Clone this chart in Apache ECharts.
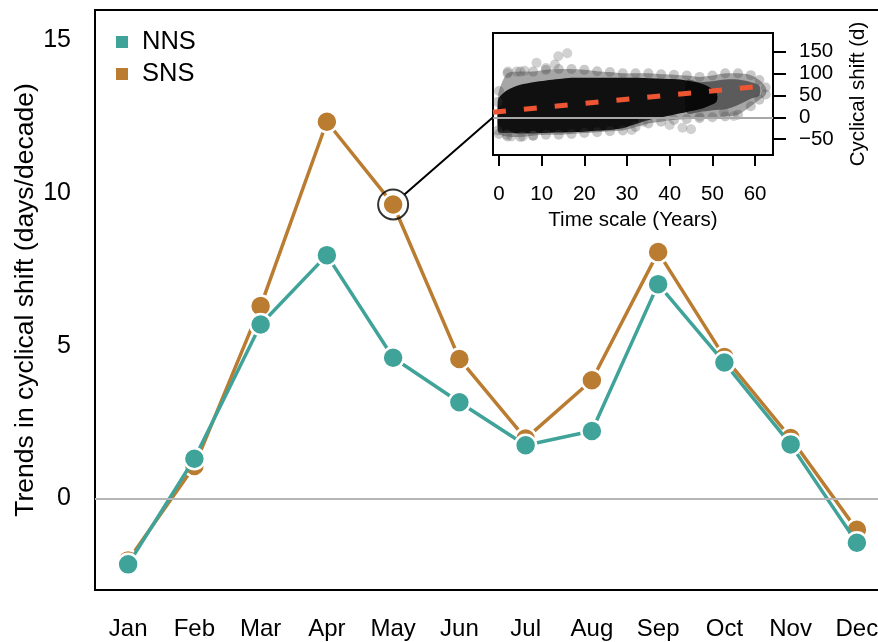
<!DOCTYPE html>
<html>
<head>
<meta charset="utf-8" />
<title>Trends in cyclical shift</title>
<script src="https://cdn.jsdelivr.net/npm/echarts@6/dist/echarts.min.js"></script>
<style>
  html, body { margin: 0; padding: 0; background: #fff; }
  #main { width: 878px; height: 642px; }
</style>
</head>
<body>
<div id="main"></div>
<script>
// main panel data
var months = ['Jan', 'Feb', 'Mar', 'Apr', 'May', 'Jun', 'Jul', 'Aug', 'Sep', 'Oct', 'Nov', 'Dec'];
var nns = [-2.16, 1.30, 5.70, 7.97, 4.61, 3.15, 1.74, 2.21, 7.02, 4.45, 1.77, -1.45];
var sns = [-2.03, 1.06, 6.30, 12.34, 9.63, 4.57, 1.96, 3.87, 8.07, 4.63, 1.98, -1.03];
var mainTicks = [0, 5, 10, 15];

// inset data: cloud outline
var cloudX  = [-0.3, 0, 2, 5, 8, 11, 14, 17, 20, 23, 26, 29, 32, 35, 38, 41, 44, 47, 50, 53, 56, 59, 61, 62.5];
var outerHi = [35, 60, 100, 104, 104, 108, 110, 110, 108, 105, 103, 100, 100, 100, 98, 97, 95, 92, 95, 100, 100, 96, 85, 68];
var outerLo = [-30, -38, -44, -45, -42, -40, -40, -38, -36, -34, -32, -30, -22, -14, -10, -6, -4, -2, 0, 2, 6, 25, 40, 52];
var coreX   = [-0.3, 0, 2, 5, 8, 11, 14, 17, 20, 23, 26, 29, 32, 35, 38, 41, 44, 47, 49, 51];
var coreHi  = [32, 45, 62, 74, 80, 84, 87, 90, 90, 90, 90, 90, 90, 89, 88, 87, 84, 78, 70, 55];
var coreLo  = [-28, -34, -36, -37, -37, -36, -35, -34, -33, -31, -29, -25, -16, -6, 0, 6, 12, 18, 25, 36];
var midX    = [44, 47, 50, 53, 56, 59, 61];
var midHi   = [84, 80, 82, 86, 86, 80, 72];
var midLo   = [10, 12, 16, 18, 28, 42, 50];
var outliers = [[13.9, 139], [16, 146], [13.1, 120], [8.8, 124], [2.1, 104], [4.1, 104], [6, 106], [11, 112],
                [1.8, -40], [2.9, -44], [5.6, -44], [8, -42], [33.8, -10], [31.1, -29], [40, -17.6],
                [43, -24], [45, -27.5], [52.7, 12], [47, 2], [55, 3]];
var trendLine = [[-1.4, 11.2], [61.5, 70.9]];
var insetXTicks = [0, 10, 20, 30, 40, 50, 60];
var insetYTicks = [-50, 0, 50, 100, 150];

var TEAL = '#40A39A';
var ORANGE = '#BA7C31';
var FONT = 'Liberation Sans, Arial, Helvetica, sans-serif';

function band(xs, hi, lo, fill) {
    return {
        type: 'custom',
        xAxisIndex: 1, yAxisIndex: 1,
        data: [[10, 0]],
        silent: true,
        renderItem: function (params, api) {
            var pts = [];
            for (var i = 0; i < xs.length; i++) pts.push(api.coord([xs[i], hi[i]]));
            for (var j = xs.length - 1; j >= 0; j--) pts.push(api.coord([xs[j], lo[j]]));
            return { type: 'polygon', shape: { points: pts, smooth: 0.3 }, style: { fill: fill } };
        },
        z: 2
    };
}

function edgeDots() {
    var d = [];
    for (var i = 0; i < cloudX.length; i++) {
        d.push([cloudX[i], outerHi[i]]);
        d.push([cloudX[i], outerLo[i]]);
    }
    return d;
}

var myChart = echarts.init(document.getElementById('main'));

var option = {
    animation: false,
    textStyle: { fontFamily: FONT, color: '#000' },
    grid: [
        { left: 95, top: 10, width: 795, height: 580, show: true, borderColor: '#000', borderWidth: 2, backgroundColor: '#fff', outerBoundsMode: 'none', containLabel: false },
        { left: 493, top: 33, width: 280, height: 122, show: true, borderColor: '#000', borderWidth: 2, backgroundColor: '#fff', outerBoundsMode: 'none', containLabel: false }
    ],
    legend: {
        data: ['NNS', 'SNS'],
        orient: 'vertical',
        left: 111, top: 24,
        icon: 'rect',
        itemWidth: 12, itemHeight: 12,
        itemGap: 6,
        itemStyle: { borderWidth: 0 },
        textStyle: { fontSize: 25.5, color: '#000', fontFamily: FONT, padding: [0, 0, 0, 9] }
    },
    xAxis: [
        {
            type: 'category', data: months, boundaryGap: true, gridIndex: 0,
            axisLine: { show: false, onZero: false },
            axisTick: { alignWithLabel: true, length: 12, lineStyle: { color: '#000', width: 2 } },
            axisLabel: { margin: 27, fontSize: 24, color: '#000', fontFamily: FONT },
            splitLine: { show: false }
        },
        {
            type: 'value', gridIndex: 1, min: -1.4, max: 64.2,
            axisLine: { show: false, onZero: false },
            axisTick: { customValues: insetXTicks, length: 11, lineStyle: { color: '#000', width: 2 } },
            axisLabel: { customValues: insetXTicks, margin: 29, fontSize: 20.5, color: '#000', fontFamily: FONT },
            splitLine: { show: false },
            name: 'Time scale (Years)', nameLocation: 'middle', nameGap: 55,
            nameTextStyle: { fontSize: 20.5, color: '#000', fontFamily: FONT }
        }
    ],
    yAxis: [
        {
            type: 'value', gridIndex: 0, min: -3, max: 16,
            axisLine: { show: false, onZero: false },
            axisTick: { customValues: mainTicks, length: 12, lineStyle: { color: '#000', width: 2 } },
            axisLabel: { customValues: mainTicks, margin: 24, fontSize: 25, color: '#000', fontFamily: FONT },
            splitLine: { show: false },
            name: 'Trends in cyclical shift (days/decade)', nameLocation: 'middle', nameGap: 56,
            nameMoveOverlap: false,
            nameTextStyle: { fontSize: 26.5, color: '#000', fontFamily: FONT }
        },
        {
            type: 'value', gridIndex: 1, min: -86, max: 192, position: 'right',
            axisLine: { show: false, onZero: false },
            axisTick: { customValues: insetYTicks, length: 13, lineStyle: { color: '#000', width: 2 } },
            axisLabel: {
                customValues: insetYTicks, margin: 26, fontSize: 20.5, color: '#000', fontFamily: FONT,
                formatter: function (v) { return String(v).replace('-', '\u2212'); }
            },
            splitLine: { show: false },
            name: 'Cyclical shift (d)', nameLocation: 'middle', nameGap: 75,
            nameTextStyle: { fontSize: 20.5, color: '#000', fontFamily: FONT }
        }
    ],
    series: [
        {
            name: 'SNS', type: 'line', xAxisIndex: 0, yAxisIndex: 0, data: sns,
            symbol: 'circle', symbolSize: 21,
            lineStyle: { color: ORANGE, width: 3.5 },
            itemStyle: { color: ORANGE, borderColor: '#fff', borderWidth: 2.5 },
            markLine: {
                silent: true, symbol: 'none', label: { show: false },
                lineStyle: { color: '#b5b5b5', width: 2, type: 'solid' },
                data: [{ yAxis: 0 }]
            },
            z: 3
        },
        {
            name: 'NNS', type: 'line', xAxisIndex: 0, yAxisIndex: 0, data: nns,
            symbol: 'circle', symbolSize: 21,
            lineStyle: { color: TEAL, width: 3.5 },
            itemStyle: { color: TEAL, borderColor: '#fff', borderWidth: 2.5 },
            z: 4
        },
        {
            name: 'highlight', type: 'scatter', xAxisIndex: 0, yAxisIndex: 0,
            data: [[4, sns[4]]],
            symbol: 'circle', symbolSize: 30, silent: true,
            itemStyle: { color: 'rgba(0,0,0,0)', borderColor: '#000', borderWidth: 2 },
            z: 5
        },
        band(cloudX, outerHi, outerLo, 'rgba(0,0,0,0.35)'),
        band(midX, midHi, midLo, 'rgba(0,0,0,0.45)'),
        band(coreX, coreHi, coreLo, 'rgba(0,0,0,0.9)'),
        {
            name: 'edge', type: 'scatter', xAxisIndex: 1, yAxisIndex: 1, data: edgeDots(),
            symbolSize: 10, silent: true,
            itemStyle: { color: 'rgba(60,60,60,0.35)' }, z: 3
        },
        {
            name: 'outliers', type: 'scatter', xAxisIndex: 1, yAxisIndex: 1, data: outliers,
            symbolSize: 10, silent: true,
            itemStyle: { color: 'rgba(90,90,90,0.35)' }, z: 3,
            markLine: {
                silent: true, symbol: 'none', label: { show: false },
                lineStyle: { color: '#a8a8a8', width: 2, type: 'solid' },
                data: [{ yAxis: 0 }]
            }
        },
        {
            name: 'trend', type: 'line', xAxisIndex: 1, yAxisIndex: 1, data: trendLine,
            symbol: 'none', silent: true,
            lineStyle: { color: '#EE5533', width: 5, type: [13, 18] }, z: 6
        }
    ]
};

myChart.setOption(option);

// connector from the circled May point to the inset
var p1 = myChart.convertToPixel({ gridIndex: 0 }, [4, sns[4]]);
var p2 = myChart.convertToPixel({ gridIndex: 1 }, [-1.4, 0]);
var dx = p2[0] - p1[0], dy = p2[1] - p1[1];
var len = Math.sqrt(dx * dx + dy * dy);
myChart.setOption({
    graphic: [{
        type: 'line', silent: true, z: 10,
        shape: { x1: p1[0] + dx / len * 15, y1: p1[1] + dy / len * 15, x2: p2[0], y2: p2[1] },
        style: { stroke: '#000', lineWidth: 2 }
    }]
});
</script>
</body>
</html>
